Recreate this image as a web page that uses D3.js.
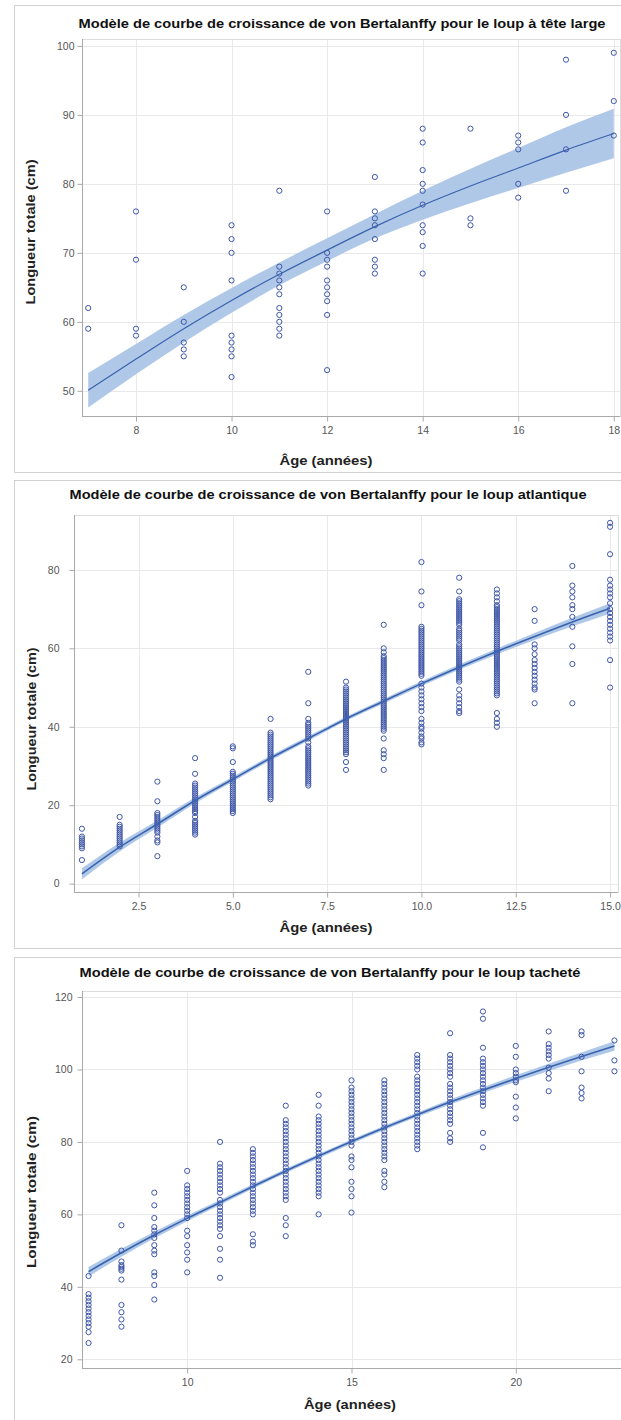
<!DOCTYPE html>
<html>
<head>
<meta charset="utf-8">
<script src="https://cdn.jsdelivr.net/npm/d3@7"></script>
<style>
  body { margin: 0; background: #fff; }
  svg { display: block; }
  text { font-family: "Liberation Sans", Arial, sans-serif; }
</style>
</head>
<body>
<svg id="chart" width="621" height="1420"></svg>
<script>
// ---- Loup à tête large ----
const largeAges = [7, 8, 9, 10, 11, 12, 13, 14, 15, 16, 17, 18];
const largeLengths = [
  [62, 59],
  [76, 69, 59, 58],
  [65, 60, 57, 56, 55],
  [74, 72, 70, 66, 58, 57, 56, 55, 52],
  [79, 68, 67, 66, 65, 64, 62, 61, 60, 59, 58],
  [76, 70, 69, 68, 66, 65, 64, 63, 61, 53],
  [81, 76, 75, 74, 72, 69, 68, 67],
  [88, 86, 82, 80, 79, 77, 74, 73, 71, 67],
  [88, 75, 74],
  [87, 86, 85, 80, 78],
  [98, 90, 85, 79],
  [99, 92, 87]
];
const largeFit   = [50.1, 54.6, 59.0, 63.1, 66.9, 70.4, 73.8, 76.9, 79.7, 82.3, 84.9, 87.3];
const largeLower = [47.6, 52.4, 57.0, 61.3, 65.3, 68.8, 72.1, 74.8, 77.2, 79.4, 81.6, 83.7];
const largeUpper = [52.6, 56.8, 61.0, 64.9, 68.6, 72.1, 75.6, 79.0, 82.2, 85.2, 88.2, 90.9];
const largeXTicks = [8, 10, 12, 14, 16, 18];
const largeYTicks = [50, 60, 70, 80, 90, 100];

// ---- Loup atlantique ----
const atlAges = [1, 2, 3, 4, 5, 6, 7, 8, 9, 10, 11, 12, 13, 14, 15];
const atlLengths = [
  [14, 12, 11.5, 11, 10.5, 10, 9.5, 9, 6],
  [17, 15, 14.5, 14, 13.5, 13, 12.5, 12, 11.5, 11, 10.5, 10, 9.5],
  [26, 21, 18, 17.5, 17, 16.5, 16, 15.5, 15, 14.5, 14, 13.5, 13, 12, 11, 10.5, 7],
  [32, 28, 25.5, 25, 24.5, 24, 23.5, 23, 22.5, 22, 21.5, 21, 20.5, 20, 19.5, 19, 18.5, 18, 17, 16, 15.5, 15, 14.5, 14, 13.5, 13, 12.5],
  [35, 34.5, 31, 28.5, 28, 27.5, 27, 26.5, 26, 25.5, 25, 24.5, 24, 23.5, 23, 22.5, 22, 21.5, 21, 20.5, 20, 19.5, 19, 18.5, 18],
  [42, 38.5, 38, 37.5, 37, 36.5, 36, 35.5, 35, 34.5, 34, 33.5, 33, 32.5, 32, 31.5, 31, 30.5, 30, 29.5, 29, 28.5, 28, 27.5, 27, 26.5, 26, 25.5, 25, 24.5, 24, 23.5, 23, 22.5, 22, 21.5],
  [54, 46, 42, 41, 40.5, 40, 39.5, 39, 38.5, 38, 37.5, 37, 36, 35, 34.5, 34, 33.5, 33, 32.5, 32, 31.5, 31, 30.5, 30, 29.5, 29, 28.5, 28, 27.5, 27, 26.5, 26, 25.5, 25],
  [51.5, 50, 49.5, 49, 48.5, 48, 47.5, 47, 46.5, 46, 45.5, 45, 44.5, 44, 43.5, 43, 42.5, 42, 41.5, 41, 40.5, 40, 39.5, 39, 38.5, 38, 37.5, 37, 36.5, 36, 35.5, 35, 34.5, 34, 33.5, 33, 31, 29],
  [66, 60, 59, 58, 57.5, 57, 56.5, 56, 55.5, 55, 54.5, 54, 53.5, 53, 52.5, 52, 51.5, 51, 50.5, 50, 49.5, 49, 48.5, 48, 47.5, 47, 46.5, 46, 45.5, 45, 44.5, 44, 43.5, 43, 42.5, 42, 41.5, 41, 40.5, 40, 39.5, 39, 37, 34, 33, 32, 29],
  [82, 74.5, 71, 65.5, 65, 64.5, 64, 63.5, 63, 62.5, 62, 61.5, 61, 60.5, 60, 59.5, 59, 58.5, 58, 57.5, 57, 56.5, 56, 55.5, 55, 54.5, 54, 53.5, 53, 51, 50, 49, 48, 47, 46, 45, 44, 42, 41, 40, 39.5, 38.5, 37.5, 37, 36, 35.5],
  [78, 74.5, 72.5, 72, 71.5, 71, 70.5, 70, 69.5, 69, 68.5, 68, 67.5, 67, 66.5, 66, 65, 64.5, 64, 63.5, 63, 62.5, 62, 61, 60.5, 60, 59.5, 59, 58.5, 58, 57.5, 57, 56.5, 56, 55.5, 55, 54.5, 54, 53.5, 53, 52.5, 52, 51.5, 49.5, 48, 47, 46, 45, 44, 43.5],
  [75, 74, 73, 72, 71, 70.5, 70, 69.5, 69, 68.5, 68, 67.5, 67, 66.5, 66, 65.5, 65, 64.5, 64, 63.5, 63, 62.5, 62, 61.5, 61, 60.5, 60, 59.5, 59, 58.5, 58, 57.5, 57, 56.5, 56, 55.5, 55, 54.5, 54, 53.5, 53, 52.5, 52, 51.5, 51, 50.5, 50, 49.5, 49, 48.5, 48, 43.5, 42, 41, 40],
  [70, 67, 61, 60, 58.5, 57, 56, 55, 54, 53, 52, 51, 50, 49.5, 46],
  [81, 76, 74.5, 73, 71, 70, 68, 65.5, 60.5, 56, 46],
  [92, 91, 84, 77.5, 76, 75, 74, 73, 71.5, 70, 69, 68, 67, 66, 65, 64, 63, 62, 57, 50]
];
const atlFit   = [2.5, 9.3, 15.2, 21.2, 26.6, 32.0, 37.0, 42.0, 46.5, 51.0, 55.2, 59.2, 63.0, 66.7, 70.2];
const atlLower = [1.1, 8.2, 14.3, 20.45, 25.95, 31.4, 36.45, 41.45, 45.9, 50.4, 54.55, 58.45, 62.1, 65.6, 68.9];
const atlUpper = [3.9, 10.4, 16.1, 21.95, 27.25, 32.6, 37.55, 42.55, 47.1, 51.6, 55.85, 59.95, 63.9, 67.8, 71.5];
const atlXTicks = [2.5, 5, 7.5, 10, 12.5, 15];
const atlYTicks = [0, 20, 40, 60, 80];

// ---- Loup tacheté ----
const spotAges = [7, 8, 9, 10, 11, 12, 13, 14, 15, 16, 17, 18, 19, 20, 21, 22, 23];
const spotLengths = [
  [43, 38, 37, 36, 35, 34, 33, 32, 31, 30, 29, 27.5, 24.5],
  [57, 50, 47, 46, 45.5, 45, 44.5, 42, 35, 33, 31, 29],
  [66, 62.5, 59, 56.5, 55.5, 54.5, 53.5, 51.5, 50, 49, 44, 43, 40.5, 36.5],
  [72, 68, 67, 66, 65, 64, 63, 62, 61, 60, 59, 55.5, 54, 51.5, 49.5, 47.5, 44],
  [80, 74, 73, 72, 71, 70, 69, 68, 67, 66, 64, 63, 62, 61, 60, 59, 58, 57, 56, 54, 50.5, 47.5, 42.5],
  [78, 77, 76, 75, 74, 73, 72, 71, 70, 69, 68, 67, 66, 65, 64, 63, 62, 61, 60, 54.5, 52.5, 51.5],
  [90, 86, 85, 84, 83, 82, 81, 80, 79, 78, 77, 76, 75, 74, 73, 72, 71, 70, 69, 68, 67, 66, 65, 64, 59, 57, 54],
  [93, 90, 87, 86, 85, 84, 83, 82, 81, 80, 79, 78, 77, 76, 75, 74, 73, 72, 71, 70, 69, 68, 67, 66, 65, 60],
  [97, 95, 94, 93, 92, 91, 90, 89, 88, 87, 86, 85, 84, 83, 82, 81, 80, 79, 76, 75, 73, 69, 67, 65, 60.5],
  [97, 96, 95, 94, 93, 92, 91, 90, 89, 88, 87, 86, 85, 84, 83, 82, 81, 80, 79, 78, 77, 76, 75, 72, 71, 69, 67.5],
  [104, 103, 102, 101, 100, 98, 97, 96, 95, 94, 93, 92, 91, 90, 89, 88, 87, 86, 85, 84, 83, 82, 81, 80, 79, 78],
  [110, 104, 103, 102, 101, 100, 99, 98, 96, 95, 94, 93, 92, 91, 90, 89, 88, 87, 86, 85, 82.5, 81, 80],
  [116, 114, 106, 103, 102, 101, 100, 99, 98, 97, 96, 95, 94, 93, 92, 91, 90, 82.5, 78.5],
  [106.5, 103.5, 100, 99, 98, 97, 96.5, 92.5, 89.5, 86.5],
  [110.5, 107, 106, 105, 104, 103, 100.5, 99, 97.5, 94],
  [110.5, 109.5, 103.5, 99.5, 95, 93.5, 92],
  [108, 102.5, 99.5]
];
const spotFit   = [44.2, 49.4, 54.3, 58.9, 63.3, 67.7, 72.0, 76.1, 80.1, 83.9, 87.5, 91.0, 94.3, 97.5, 100.6, 103.6, 106.5];
const spotLower = [42.9, 48.3, 53.4, 58.1, 62.6, 67.05, 71.4, 75.5, 79.5, 83.3, 86.85, 90.3, 93.5, 96.6, 99.6, 102.5, 105.2];
const spotUpper = [45.5, 50.5, 55.2, 59.7, 64.0, 68.35, 72.6, 76.7, 80.7, 84.5, 88.15, 91.7, 95.1, 98.4, 101.6, 104.7, 107.8];
const spotXTicks = [10, 15, 20];
const spotYTicks = [20, 40, 60, 80, 100, 120];

const xLabel = "Âge (années)";
const yLabel = "Longueur totale (cm)";

const svg = d3.select("#chart");

const POINT = "#3f57a8";
const BAND = "#abc5e7";
const LINE = "#3a62ad";

function drawPanel(p) {
  const g = svg.append("g");

  // panel border
  g.append("rect")
    .attr("x", p.box[0] + 0.5).attr("y", p.box[1] + 0.5)
    .attr("width", p.box[2]).attr("height", p.box[3])
    .attr("fill", "#fff").attr("stroke", "#d2d2d2");

  const x = d3.scaleLinear().domain(p.xDomain).range([p.plot.left, p.plot.right]);
  const y = d3.scaleLinear().domain(p.yDomain).range([p.plot.bottom, p.plot.top]);

  // grid
  g.append("g").selectAll("line").data(p.xTicks).join("line")
    .attr("x1", d => Math.round(x(d)) + 0.5).attr("x2", d => Math.round(x(d)) + 0.5)
    .attr("y1", p.plot.top).attr("y2", p.plot.bottom)
    .attr("stroke", "#e9e9ec");
  g.append("g").selectAll("line").data(p.yTicks).join("line")
    .attr("y1", d => Math.round(y(d)) + 0.5).attr("y2", d => Math.round(y(d)) + 0.5)
    .attr("x1", p.plot.left).attr("x2", p.plot.right)
    .attr("stroke", "#e9e9ec");

  // plot frame
  g.append("rect")
    .attr("x", p.plot.left + 0.5).attr("y", p.plot.top + 0.5)
    .attr("width", p.plot.right - p.plot.left).attr("height", p.plot.bottom - p.plot.top)
    .attr("fill", "none").attr("stroke", "#dcdcdc");

  // axes
  const xAxis = g.append("g")
    .attr("transform", `translate(0,${p.plot.bottom + 0.5})`)
    .call(d3.axisBottom(x).tickValues(p.xTicks).tickFormat(p.xFormat).tickSize(5).tickSizeOuter(0).tickPadding(5));
  const yAxis = g.append("g")
    .attr("transform", `translate(${p.plot.left + 0.5},0)`)
    .call(d3.axisLeft(y).tickValues(p.yTicks).tickFormat(d3.format("d")).tickSize(5).tickSizeOuter(0).tickPadding(p.yPad));
  [xAxis, yAxis].forEach(a => {
    a.select(".domain").attr("stroke", "#a9a9a9");
    a.selectAll(".tick line").attr("stroke", "#a9a9a9");
    a.selectAll(".tick text").attr("fill", "#555").attr("font-size", 10.5)
      .attr("font-family", "'Liberation Sans', Arial, sans-serif");
  });
  xAxis.select(".domain").attr("d", `M${p.plot.left},0H${p.plot.right}`);
  yAxis.select(".domain").attr("d", `M0,${p.plot.top}V${p.plot.bottom}`);

  // confidence band and fitted curve
  const fitRows = p.ages.map((a, i) => ({ age: a, fit: p.fit[i], lo: p.lower[i], hi: p.upper[i] }));
  g.append("path").datum(fitRows)
    .attr("fill", BAND).attr("opacity", 0.95)
    .attr("d", d3.area().x(d => x(d.age)).y0(d => y(d.lo)).y1(d => y(d.hi)).curve(d3.curveMonotoneX));

  // observations
  const obs = p.ages.flatMap((a, i) => p.lengths[i].map(v => ({ age: a, len: v })));
  g.append("g").selectAll("circle").data(obs).join("circle")
    .attr("cx", d => x(d.age)).attr("cy", d => y(d.len)).attr("r", 2.6)
    .attr("fill", "none").attr("stroke", POINT).attr("stroke-width", 1);

  g.append("path").datum(fitRows)
    .attr("fill", "none").attr("stroke", LINE).attr("stroke-width", p.lineWidth)
    .attr("d", d3.line().x(d => x(d.age)).y(d => y(d.fit)).curve(d3.curveMonotoneX));

  // titles
  g.append("text")
    .attr("x", p.title.x).attr("y", p.title.y).attr("dy", "0.35em")
    .attr("text-anchor", "middle").attr("font-weight", "bold").attr("font-size", 12)
    .attr("fill", "#111").attr("textLength", p.title.len).attr("lengthAdjust", "spacingAndGlyphs")
    .text(p.title.text);
  g.append("text")
    .attr("x", p.xTitle.x).attr("y", p.xTitle.y).attr("dy", "0.35em")
    .attr("text-anchor", "middle").attr("font-weight", "bold").attr("font-size", 12)
    .attr("fill", "#222").attr("textLength", p.xTitle.len).attr("lengthAdjust", "spacingAndGlyphs")
    .text(xLabel);
  g.append("text")
    .attr("transform", `translate(${p.yTitle.x},${p.yTitle.y}) rotate(-90)`)
    .attr("dy", "0.35em")
    .attr("text-anchor", "middle").attr("font-weight", "bold").attr("font-size", 12)
    .attr("fill", "#222").attr("textLength", p.yTitle.len).attr("lengthAdjust", "spacingAndGlyphs")
    .text(yLabel);
}

drawPanel({
  box: [14, 5, 640, 467],
  plot: { left: 82, right: 620, top: 39, bottom: 416 },
  xDomain: [6.87, 18.13], yDomain: [46.35, 101.0],
  xTicks: largeXTicks, yTicks: largeYTicks, xFormat: d3.format("d"), yPad: 3,
  ages: largeAges, lengths: largeLengths, fit: largeFit, lower: largeLower, upper: largeUpper,
  lineWidth: 1.2,
  title: { x: 342, y: 24, len: 527, text: "Modèle de courbe de croissance de von Bertalanffy pour le loup à tête large" },
  xTitle: { x: 326, y: 461, len: 93 },
  yTitle: { x: 31, y: 232, len: 145 }
});

drawPanel({
  box: [14, 480, 640, 468],
  plot: { left: 74, right: 618, top: 515, bottom: 892 },
  xDomain: [0.79, 15.21], yDomain: [-2.14, 94.0],
  xTicks: atlXTicks, yTicks: atlYTicks, xFormat: d3.format(".1f"), yPad: 10,
  ages: atlAges, lengths: atlLengths, fit: atlFit, lower: atlLower, upper: atlUpper,
  lineWidth: 1.6,
  title: { x: 328, y: 495, len: 517, text: "Modèle de courbe de croissance de von Bertalanffy pour le loup atlantique" },
  xTitle: { x: 326, y: 928, len: 93 },
  yTitle: { x: 32, y: 719, len: 143 }
});

drawPanel({
  box: [14, 957, 640, 480],
  plot: { left: 82, right: 621, top: 991, bottom: 1368 },
  xDomain: [6.8, 23.2], yDomain: [17.6, 121.66],
  xTicks: spotXTicks, yTicks: spotYTicks, xFormat: d3.format("d"), yPad: 5,
  ages: spotAges, lengths: spotLengths, fit: spotFit, lower: spotLower, upper: spotUpper,
  lineWidth: 1.6,
  title: { x: 330, y: 973, len: 501, text: "Modèle de courbe de croissance de von Bertalanffy pour le loup tacheté" },
  xTitle: { x: 350, y: 1405, len: 92 },
  yTitle: { x: 32, y: 1192, len: 152 }
});
</script>
</body>
</html>
